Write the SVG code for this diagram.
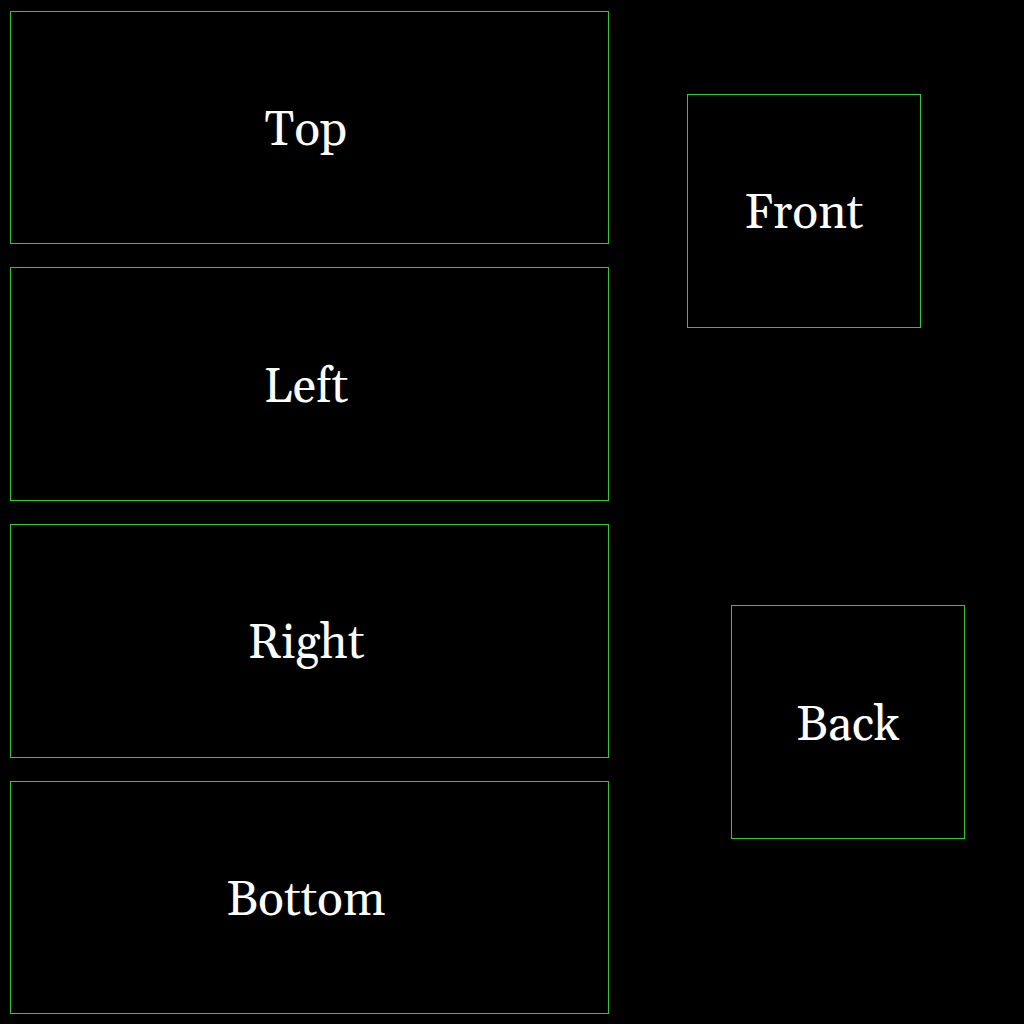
<svg xmlns="http://www.w3.org/2000/svg" width="1024" height="1024" viewBox="0 0 1024 1024">
<style>
.box{fill:#000;stroke:#33c633;stroke-width:1}
.lbl{fill:#fff;font-family:Georgia,"Gelasio","Liberation Serif","DejaVu Serif",serif;font-size:48px;text-anchor:middle}
</style>
<rect width="1024" height="1024" fill="#000"/>
<g id="top"><rect class="box" x="10.5" y="11.5" width="598" height="232"/><text class="lbl" x="306" y="145">Top</text></g>
<g id="left"><rect class="box" x="10.5" y="267.5" width="598" height="233"/><text class="lbl" x="306" y="402">Left</text></g>
<g id="right"><rect class="box" x="10.5" y="524.5" width="598" height="233"/><text class="lbl" x="306" y="658">Right</text></g>
<g id="bottom"><rect class="box" x="10.5" y="781.5" width="598" height="232"/><text class="lbl" x="306" y="915">Bottom</text></g>
<g id="front"><rect class="box" x="687.5" y="94.5" width="233" height="233"/><text class="lbl" x="803.5" y="228">Front</text></g>
<g id="back"><rect class="box" x="731.5" y="605.5" width="233" height="233"/><text class="lbl" x="848" y="740">Back</text></g>
<g id="connectors"/>
</svg>
